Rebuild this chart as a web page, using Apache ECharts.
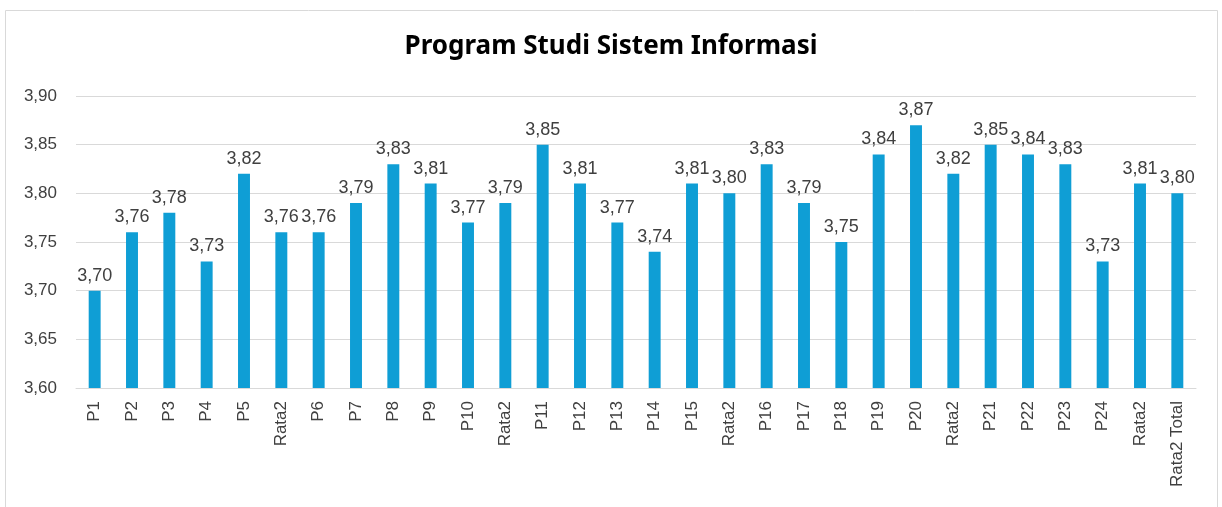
<!DOCTYPE html>
<html>
<head>
<meta charset="utf-8">
<script src="https://cdn.jsdelivr.net/npm/echarts@6/dist/echarts.min.js"></script>
<style>
  html, body { margin: 0; padding: 0; background: #fff; }
  #chart { width: 1222px; height: 507px; }
</style>
</head>
<body>
<div id="chart"></div>
<script>
var categories = ['P1', 'P2', 'P3', 'P4', 'P5', 'Rata2', 'P6', 'P7', 'P8', 'P9', 'P10', 'Rata2',
  'P11', 'P12', 'P13', 'P14', 'P15', 'Rata2', 'P16', 'P17', 'P18', 'P19', 'P20', 'Rata2',
  'P21', 'P22', 'P23', 'P24', 'Rata2', 'Rata2 Total'];
var values = [3.70, 3.76, 3.78, 3.73, 3.82, 3.76, 3.76, 3.79, 3.83, 3.81, 3.77, 3.79,
  3.85, 3.81, 3.77, 3.74, 3.81, 3.80, 3.83, 3.79, 3.75, 3.84, 3.87, 3.82,
  3.85, 3.84, 3.83, 3.73, 3.81, 3.80];

function koma(v) {
  return Number(v).toFixed(2).replace('.', ',');
}

var myChart = echarts.init(document.getElementById('chart'));

var option = {
  animation: false,
  title: {
    text: 'Program Studi Sistem Informasi',
    left: 'center',
    top: 29,
    textStyle: {
      fontFamily: 'Noto Sans',
      fontWeight: 'bold',
      fontSize: 26,
      color: '#000'
    }
  },
  graphic: [{
    type: 'rect',
    shape: { x: 5.5, y: 10.5, width: 1212, height: 520 },
    style: { fill: 'none', stroke: '#d9d9d9', lineWidth: 1 }
  }],
  grid: { left: 76, right: 26, top: 96, bottom: 119 },
  xAxis: {
    type: 'category',
    data: categories,
    axisTick: { show: false },
    axisLine: { lineStyle: { color: '#d9d9d9' } },
    axisLabel: {
      rotate: 90,
      interval: 0,
      color: '#404040',
      fontFamily: 'Liberation Sans',
      fontSize: 17,
      margin: 13
    }
  },
  yAxis: {
    type: 'value',
    min: 3.6,
    max: 3.9,
    interval: 0.05,
    axisLine: { show: false },
    axisTick: { show: false },
    splitLine: { lineStyle: { color: '#d9d9d9' } },
    axisLabel: {
      color: '#404040',
      fontFamily: 'Liberation Sans',
      fontSize: 17,
      margin: 19,
      formatter: koma
    }
  },
  series: [{
    type: 'bar',
    data: values,
    barWidth: '32%',
    itemStyle: { color: '#0F9ED5' },
    label: {
      show: true,
      position: 'top',
      distance: 6,
      color: '#404040',
      fontFamily: 'Liberation Sans',
      fontSize: 18,
      formatter: function (p) { return koma(p.value); }
    }
  }]
};

myChart.setOption(option);
</script>
</body>
</html>
